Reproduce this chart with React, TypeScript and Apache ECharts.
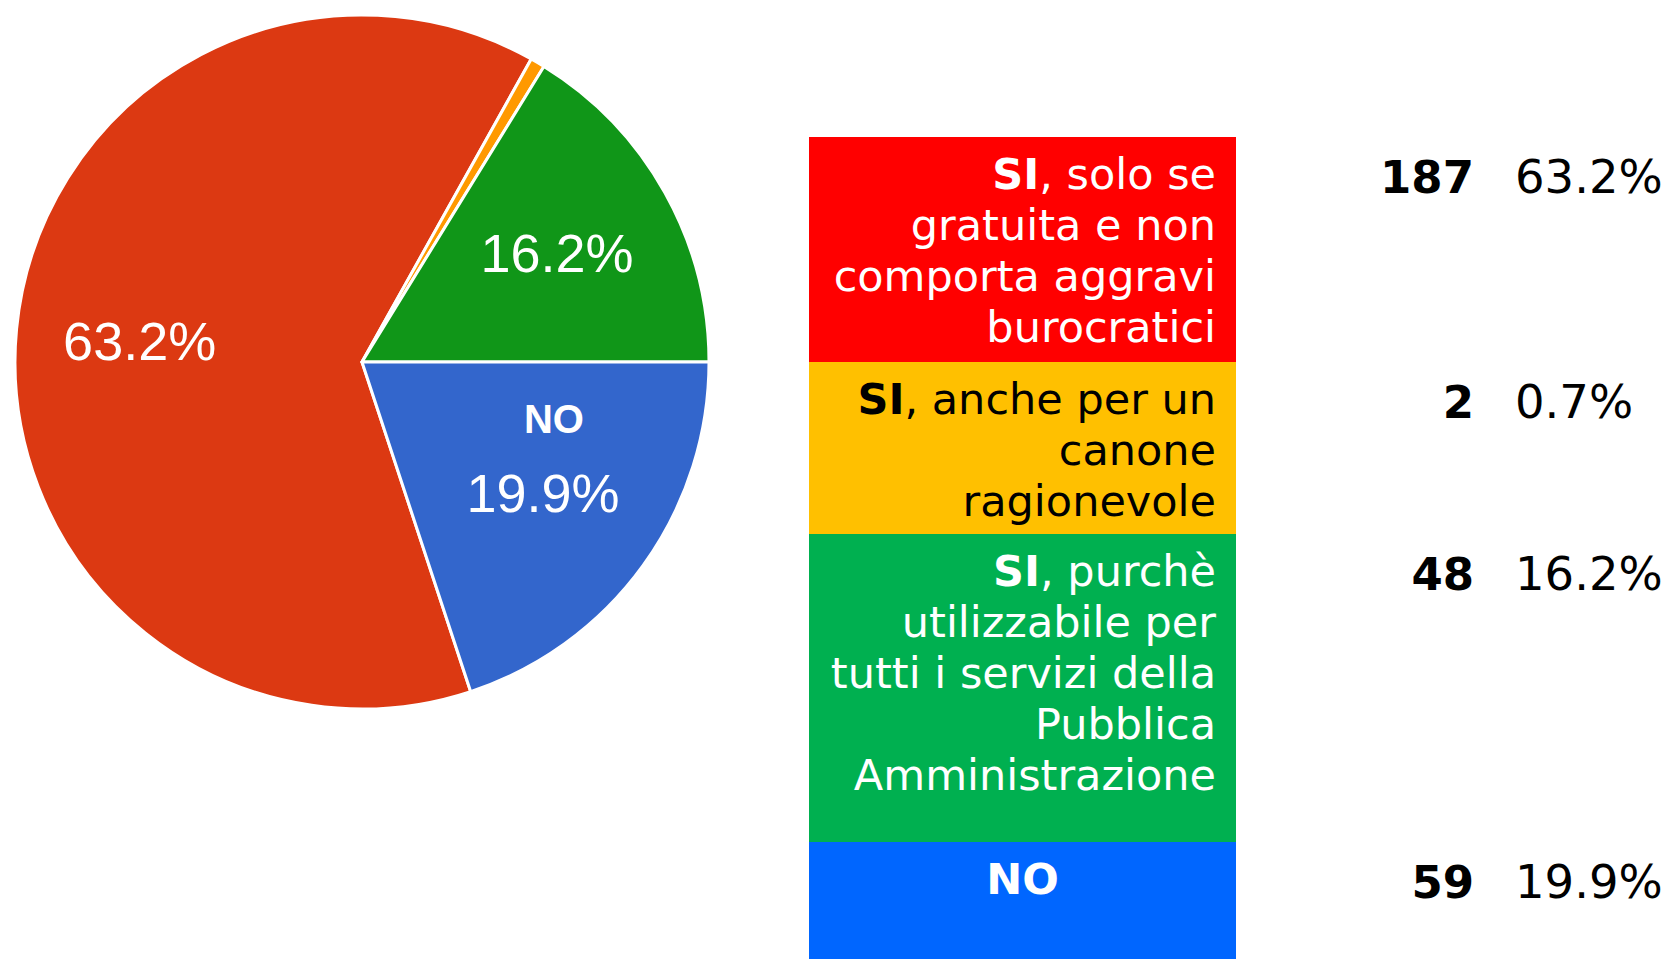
import React, { useEffect, useRef } from 'react';
import * as echarts from 'echarts';

// ---- data ----
const categories = [
  'SI, solo se gratuita e non comporta aggravi burocratici',
  'SI, anche per un canone ragionevole',
  'SI, purchè utilizzabile per tutti i servizi della Pubblica Amministrazione',
  'NO',
];
const legendLines = [
  ['{b|SI}, solo se', 'gratuita e non', 'comporta aggravi', 'burocratici'],
  ['{b|SI}, anche per un', 'canone', 'ragionevole'],
  ['{b|SI}, purchè', 'utilizzabile per', 'tutti i servizi della', 'Pubblica', 'Amministrazione'],
  ['{b|NO}'],
];
const counts = [187, 2, 48, 59];
const pieSliceNames = ['', '', '', 'NO'];
const pieLabelShown = [true, false, true, true];
const pieColors = ['#DC3912', '#FF9900', '#109618', '#3366CC'];
const tableColors = ['#FF0000', '#FFC000', '#00B050', '#0066FF'];
const tableTextColors = ['#FFFFFF', '#000000', '#FFFFFF', '#FFFFFF'];
const tableTextAlign = ['right', 'right', 'right', 'center'];

// ---- layout ----
const W = 1670;
const H = 959;
const PIE_CX = 362;
const PIE_CY = 362;
const PIE_R = 347;
const TABLE_X = 809;
const TABLE_W = 427;
const TABLE_TOP = 137;
const blockHeights = [225, 172, 308, 117];
const TEXT_RIGHT = 1216;
const LINE_H = 51;
const FIRST_LINE_CENTER = 37;
const COUNT_RIGHT = 1474;
const PCT_LEFT = 1515;
const TABLE_FONT = '"DejaVu Sans", Verdana, sans-serif';
const PIE_FONT = '"Liberation Sans", Arial, sans-serif';

export default function App() {
  const ref = useRef<HTMLDivElement>(null);

  useEffect(() => {
    if (!ref.current) return;
    const chart = echarts.init(ref.current, undefined, { renderer: 'svg' });
    const total = counts.reduce((a, b) => a + b, 0);
    // Start so that the last slice (NO) ends at 3 o'clock going clockwise
    const startAngle = 360 - (360 * counts[counts.length - 1]) / total;

    const pieData = counts.map((v, i) => ({
      value: v,
      name: categories[i],
      itemStyle: { color: pieColors[i] },
    }));

    const graphics: any[] = [];
    let top = TABLE_TOP;
    counts.forEach((v, i) => {
      const h = blockHeights[i];
      graphics.push({
        type: 'rect',
        silent: true,
        shape: { x: TABLE_X, y: top, width: TABLE_W, height: h },
        style: { fill: tableColors[i] },
      });
      const align = tableTextAlign[i];
      const tx = align === 'center' ? TABLE_X + TABLE_W / 2 : TEXT_RIGHT;
      legendLines[i].forEach((line, j) => {
        graphics.push({
          type: 'text',
          silent: true,
          x: tx,
          y: top + FIRST_LINE_CENTER + j * LINE_H,
          style: {
            text: line,
            fill: tableTextColors[i],
            fontFamily: TABLE_FONT,
            fontSize: 43,
            align,
            textAlign: align,
            verticalAlign: 'middle',
            textVerticalAlign: 'middle',
            rich: {
              b: {
                fontFamily: TABLE_FONT,
                fontSize: 43,
                fontWeight: 'bold',
                fill: tableTextColors[i],
                color: tableTextColors[i],
              },
            },
          },
        });
      });
      const cy = top + FIRST_LINE_CENTER + 3;
      graphics.push({
        type: 'text',
        silent: true,
        x: COUNT_RIGHT,
        y: cy,
        style: {
          text: String(v),
          fill: '#000',
          fontFamily: TABLE_FONT,
          fontSize: 45,
          fontWeight: 'bold',
          align: 'right',
          textAlign: 'right',
          verticalAlign: 'middle',
          textVerticalAlign: 'middle',
        },
      });
      graphics.push({
        type: 'text',
        silent: true,
        x: PCT_LEFT,
        y: cy,
        style: {
          text: ((v / total) * 100).toFixed(1) + '%',
          fill: '#000',
          fontFamily: TABLE_FONT,
          fontSize: 46.5,
          align: 'left',
          textAlign: 'left',
          verticalAlign: 'middle',
          textVerticalAlign: 'middle',
        },
      });
      top += h;
    });

    chart.setOption({
      animation: false,
      backgroundColor: '#FFFFFF',
      series: [
        {
          type: 'pie',
          center: [PIE_CX, PIE_CY],
          radius: [0, PIE_R],
          startAngle,
          clockwise: true,
          silent: true,
          label: { show: false },
          labelLine: { show: false },
          emphasis: { disabled: true },
          itemStyle: { borderColor: '#FFFFFF', borderWidth: 3 },
          data: pieData,
        },
        {
          type: 'pie',
          center: [PIE_CX, PIE_CY],
          radius: [PIE_R * 0.27, PIE_R],
          startAngle,
          clockwise: true,
          silent: true,
          percentPrecision: 1,
          emphasis: { disabled: true },
          itemStyle: { color: 'rgba(0,0,0,0)', borderWidth: 0 },
          labelLine: { show: false },
          label: {
            show: true,
            position: 'inside',
            color: '#FFFFFF',
            fontFamily: PIE_FONT,
            formatter: (p: any) => {
              const i = p.dataIndex;
              if (!pieLabelShown[i]) return '';
              const pct = `{p|${p.percent}%}`;
              if (pieSliceNames[i]) return `{n|${pieSliceNames[i]}}\n${pct}\n{s| }`;
              return pct;
            },
            rich: {
              n: {
                fontFamily: PIE_FONT,
                fontWeight: 'bold',
                fontSize: 40,
                lineHeight: 88,
                color: '#FFFFFF',
                padding: [0, 0, 0, 22],
              },
              p: { fontFamily: PIE_FONT, fontSize: 54, lineHeight: 60, color: '#FFFFFF' },
              s: { fontFamily: PIE_FONT, fontSize: 40, lineHeight: 88, color: '#FFFFFF' },
            },
          },
          data: pieData.map((d) => ({ value: d.value, name: d.name })),
        },
      ],
      graphic: graphics,
    });

    return () => chart.dispose();
  }, []);

  return (
    <div
      ref={ref}
      style={{ position: 'fixed', left: 0, top: 0, width: W, height: H, background: '#fff' }}
    />
  );
}
